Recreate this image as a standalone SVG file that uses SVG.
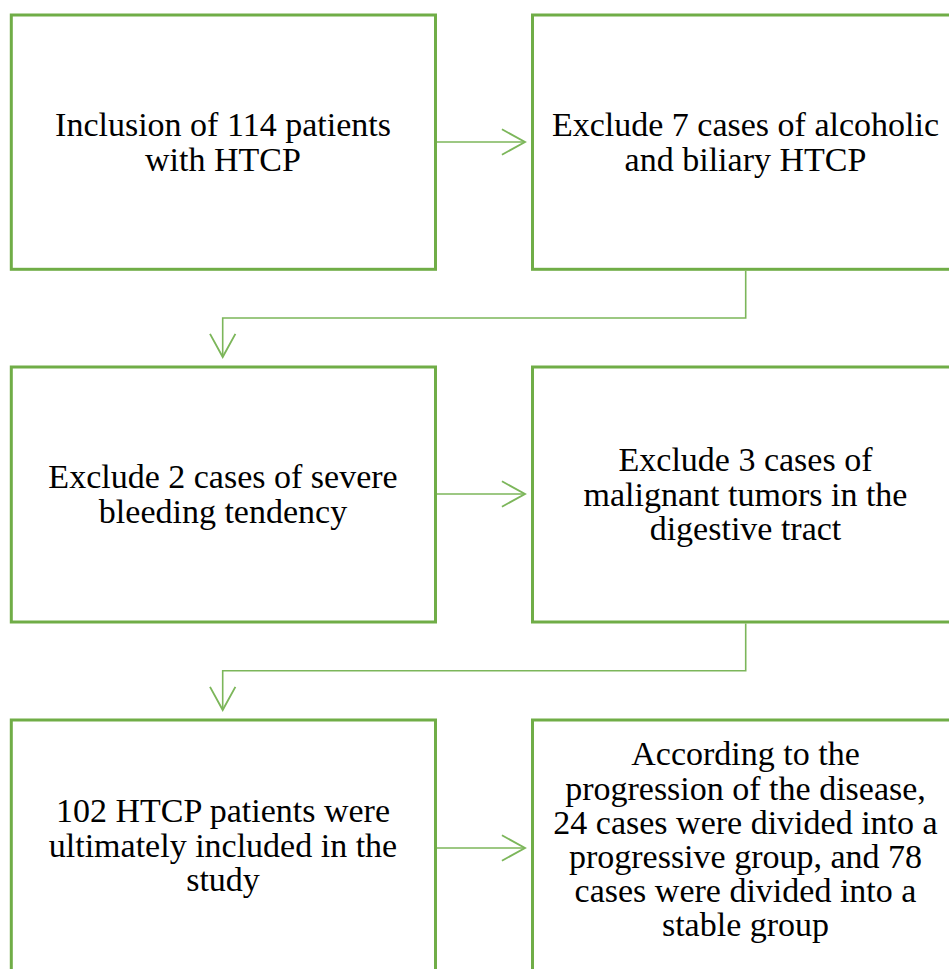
<svg xmlns="http://www.w3.org/2000/svg" width="949" height="969" viewBox="0 0 949 969">
<defs>
<marker id="chev" markerUnits="userSpaceOnUse" markerWidth="30" markerHeight="30" viewBox="-22 -13 24 26" refX="0" refY="0" orient="auto" overflow="visible">
<path d="M-20,-11 L0,0 L-20,11" fill="none" stroke="#7cb65a" stroke-width="1.6"/>
</marker>
</defs>
<style>
.box{fill:#ffffff;stroke:#70ad47;stroke-width:3}
.t{font-family:"Liberation Serif","Times New Roman",serif;font-size:34px;fill:#000;text-anchor:middle}
.c{fill:none;stroke:#7cb65a;stroke-width:1.6}
</style>
<rect width="949" height="969" fill="#ffffff"/>
<g id="n1"><rect class="box" x="11.3" y="15" width="424.2" height="254.3"/>
<text class="t"><tspan x="223" y="135.5">Inclusion of 114 patients</tspan><tspan x="223" y="170.5">with HTCP</tspan></text></g>
<g id="n2"><rect class="box" x="532.5" y="15" width="426" height="254.3"/>
<text class="t"><tspan x="745.5" y="135.5">Exclude 7 cases of alcoholic</tspan><tspan x="745.5" y="170.5">and biliary HTCP</tspan></text></g>
<g id="n3"><rect class="box" x="11.3" y="367" width="424.2" height="255"/>
<text class="t"><tspan x="223" y="488">Exclude 2 cases of severe</tspan><tspan x="223" y="523">bleeding tendency</tspan></text></g>
<g id="n4"><rect class="box" x="532.5" y="367" width="426" height="255"/>
<text class="t"><tspan x="745.5" y="471">Exclude 3 cases of</tspan><tspan x="745.5" y="505.5">malignant tumors in the</tspan><tspan x="745.5" y="540">digestive tract</tspan></text></g>
<g id="n5"><rect class="box" x="11.3" y="720" width="424.2" height="260"/>
<text class="t"><tspan x="223" y="822">102 HTCP patients were</tspan><tspan x="223" y="856.7">ultimately included in the</tspan><tspan x="223" y="891">study</tspan></text></g>
<g id="n6"><rect class="box" x="532.5" y="720" width="426" height="260"/>
<text class="t"><tspan x="745.5" y="765">According to the</tspan><tspan x="745.5" y="799.5">progression of the disease,</tspan><tspan x="745.5" y="833.5">24 cases were divided into a</tspan><tspan x="745.5" y="867.5">progressive group, and 78</tspan><tspan x="745.5" y="902">cases were divided into a</tspan><tspan x="745.5" y="936">stable group</tspan></text></g>
<g id="connectors">
<path class="c" d="M437,142 H525" marker-end="url(#chev)"/>
<path class="c" d="M745.7,270.8 V318 H222.7 V357" marker-end="url(#chev)"/>
<path class="c" d="M437,494 H525" marker-end="url(#chev)"/>
<path class="c" d="M745.7,623.5 V670.7 H222.7 V710" marker-end="url(#chev)"/>
<path class="c" d="M437,848 H525" marker-end="url(#chev)"/>
</g>
</svg>
